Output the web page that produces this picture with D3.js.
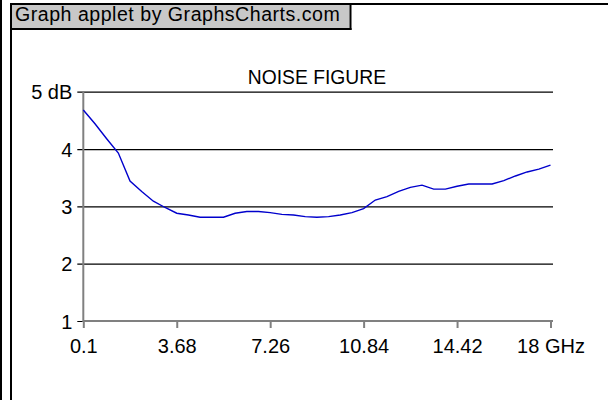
<!DOCTYPE html>
<html>
<head>
<meta charset="utf-8">
<script src="https://cdn.jsdelivr.net/npm/d3@7"></script>
<style>
  html, body { margin: 0; padding: 0; background: #fff; }
  svg { display: block; }
  text { font-family: Arial, "Liberation Sans", sans-serif; fill: #000; }
</style>
</head>
<body>
<svg id="chart" width="608" height="400"></svg>
<script>
// ---- data ----
const frequencies = [0.1, 0.5475, 0.995, 1.4425, 1.89, 2.3375, 2.785, 3.2325, 3.68, 4.1275,
  4.575, 5.0225, 5.47, 5.9175, 6.365, 6.8125, 7.26, 7.7075, 8.155, 8.6025,
  9.05, 9.4975, 9.945, 10.3925, 10.84, 11.2875, 11.735, 12.1825, 12.63, 13.0775,
  13.525, 13.9725, 14.42, 14.8675, 15.315, 15.7625, 16.21, 16.6575, 17.105, 17.5525, 18];
const noiseFigure = [4.68, 4.44, 4.18, 3.93, 3.44, 3.26, 3.09, 2.98, 2.88, 2.85,
  2.81, 2.81, 2.81, 2.88, 2.91, 2.91, 2.89, 2.86, 2.85, 2.82,
  2.81, 2.82, 2.85, 2.89, 2.96, 3.11, 3.17, 3.26, 3.33, 3.37,
  3.30, 3.30, 3.35, 3.39, 3.39, 3.39, 3.45, 3.53, 3.60, 3.65, 3.72];
const xTickValues = [0.1, 3.68, 7.26, 10.84, 14.42, 18];
const xTickLabels = ["0.1", "3.68", "7.26", "10.84", "14.42", "18 GHz"];
const yTickValues = [1, 2, 3, 4, 5];
const yTickLabels = ["1", "2", "3", "4", "5 dB"];
const chartTitle = "NOISE FIGURE";
const headerText = "Graph applet by GraphsCharts.com";

// ---- layout ----
const svg = d3.select("#chart");
const W = 608, H = 400;
const plot = { left: 83.3, right: 550.5, top: 91.7, bottom: 321 };

svg.append("rect").attr("width", W).attr("height", H).attr("fill", "#fff");

// frame lines
svg.append("rect").attr("x", 0).attr("y", 0).attr("width", 2).attr("height", H).attr("fill", "#000");
svg.append("rect").attr("x", 10).attr("y", 3).attr("width", 2).attr("height", H - 3).attr("fill", "#000");
svg.append("rect").attr("x", 10).attr("y", 3).attr("width", W - 10).attr("height", 2).attr("fill", "#000");

// header box
svg.append("rect").attr("x", 12).attr("y", 5).attr("width", 337.5).attr("height", 23.5).attr("fill", "#c8c8c8");
svg.append("rect").attr("x", 12).attr("y", 28).attr("width", 339.5).attr("height", 2).attr("fill", "#000");
svg.append("rect").attr("x", 349.5).attr("y", 3).attr("width", 2).attr("height", 27).attr("fill", "#000");
svg.append("text").attr("x", 15).attr("y", 21).attr("font-size", 19.6)
  .attr("letter-spacing", 0.5).text(headerText);

// scales
const x = d3.scaleLinear().domain([0.1, 18]).range([plot.left, plot.right]);
const y = d3.scaleLinear().domain([1, 5]).range([plot.bottom, plot.top]);

// horizontal gridlines (extend left as ticks)
const yAxis = d3.axisLeft(y).tickValues(yTickValues)
  .tickSize(-(553 - plot.left)).tickPadding(11)
  .tickFormat((d, i) => yTickLabels[i]);
const gy = svg.append("g").attr("transform", `translate(${plot.left},0)`).call(yAxis);
gy.select(".domain").remove();
gy.selectAll(".tick line").attr("stroke", "#000").attr("stroke-width", 1.2)
  .attr("x1", -6);
gy.selectAll(".tick text").attr("font-size", 20).attr("font-family", "Arial, 'Liberation Sans', sans-serif")
  .attr("x", -11).attr("dy", "0.36em");

// title
svg.append("text").attr("x", (plot.left + plot.right) / 2).attr("y", 84)
  .attr("text-anchor", "middle").attr("font-size", 19.3).text(chartTitle);

// x axis
const xAxis = d3.axisBottom(x).tickValues(xTickValues).tickSize(7).tickPadding(11)
  .tickFormat((d, i) => xTickLabels[i]);
const gx = svg.append("g").attr("transform", `translate(0,${plot.bottom})`).call(xAxis);
gx.select(".domain").attr("stroke", "#808080").attr("stroke-width", 2)
  .attr("d", `M${plot.left},0H553`);
gx.selectAll(".tick line").attr("stroke", "#808080").attr("stroke-width", 2);
gx.selectAll(".tick text").attr("font-size", 20).attr("font-family", "Arial, 'Liberation Sans', sans-serif");

// y axis line (gray)
svg.append("line").attr("x1", plot.left).attr("x2", plot.left)
  .attr("y1", plot.top).attr("y2", plot.bottom + 1)
  .attr("stroke", "#808080").attr("stroke-width", 2);

// data line
const line = d3.line().x((d, i) => x(frequencies[i])).y(d => y(d));
svg.append("path").datum(noiseFigure)
  .attr("d", line).attr("fill", "none")
  .attr("stroke", "#0000cc").attr("stroke-width", 1.4);
</script>
</body>
</html>
